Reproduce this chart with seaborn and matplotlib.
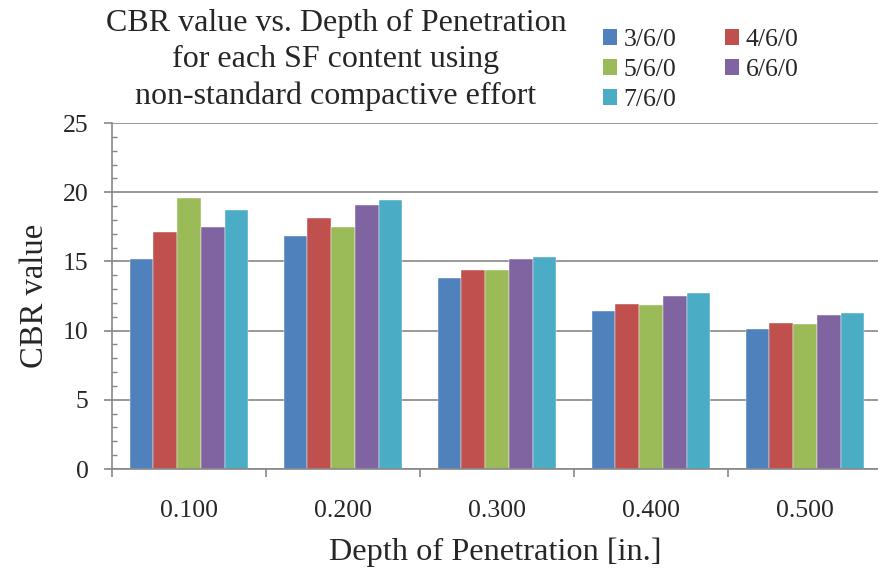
import matplotlib
matplotlib.use("Agg")
import matplotlib.pyplot as plt
from matplotlib.patches import Patch
from matplotlib.ticker import MultipleLocator, FixedLocator
import seaborn as sns
import pandas as pd

# CBR values for each SF content at each penetration depth
depths = ["0.100", "0.200", "0.300", "0.400", "0.500"]
mixes = ["3/6/0", "4/6/0", "5/6/0", "6/6/0", "7/6/0"]
cbr_3 = [15.2, 16.8, 13.8, 11.4, 10.1]
cbr_4 = [17.1, 18.1, 14.4, 11.9, 10.55]
cbr_5 = [19.6, 17.5, 14.35, 11.85, 10.5]
cbr_6 = [17.5, 19.1, 15.15, 12.5, 11.1]
cbr_7 = [18.75, 19.45, 15.35, 12.7, 11.25]
colors = ["#4F81BD", "#C0504D", "#9BBB59", "#8064A2", "#4BACC6"]

series = [cbr_3, cbr_4, cbr_5, cbr_6, cbr_7]
df = pd.DataFrame(
    [(d, m, v) for m, vals in zip(mixes, series) for d, v in zip(depths, vals)],
    columns=["depth", "mix", "cbr"],
)

sns.set_theme(style="white")
plt.rcParams["font.family"] = ["Liberation Serif", "DejaVu Serif"]
grid_col = "#878787"

W, H = 879, 571
fig = plt.figure(figsize=(W / 100, H / 100), dpi=100)
ax = fig.add_axes([112 / W, 1 - 469 / H, (879 - 112) / W, 346 / H])

sns.barplot(
    data=df, x="depth", y="cbr", hue="mix", order=depths, hue_order=mixes,
    palette=colors, saturation=1, width=0.77, dodge=True, legend=False,
    edgecolor="white", linewidth=0.3, ax=ax,
)

ax.set_xlim(-0.5, 4.48)
ax.set_ylim(0, 25)
ax.yaxis.set_major_locator(MultipleLocator(5))
ax.yaxis.set_minor_locator(MultipleLocator(1))
ax.grid(axis="y", which="major", color=grid_col, linewidth=1.2)
ax.set_axisbelow(True)

for side in ["top", "right"]:
    ax.spines[side].set_visible(False)
for side in ["left", "bottom"]:
    ax.spines[side].set_color(grid_col)
    ax.spines[side].set_linewidth(1.2)

ax.tick_params(axis="y", which="major", direction="out", length=6, width=1.2,
               color=grid_col, labelsize=18.5, pad=11, left=True)
ax.tick_params(axis="y", which="minor", direction="in", length=3.5, width=1.0,
               color=grid_col, left=True)
ax.xaxis.set_minor_locator(FixedLocator([i - 0.5 for i in range(6)]))
ax.tick_params(axis="x", which="major", length=0, labelsize=18.5, pad=22.5)
ax.tick_params(axis="x", which="minor", direction="out", length=6, width=1.2,
               color=grid_col, bottom=True)

ax.set_xlabel("Depth of Penetration [in.]", fontsize=23.3, labelpad=11)
ax.set_ylabel("CBR value", fontsize=23.5, labelpad=9)

fig.text(336 / W, 1 - 60 / H,
         "CBR value vs. Depth of Penetration\nfor each SF content using\nnon-standard compactive effort",
         ha="center", va="center", fontsize=23, linespacing=1.33)

handles = [Patch(facecolor=c, edgecolor="none") for c in colors]
order = [0, 2, 4, 1, 3]
fig.legend([handles[i] for i in order], [mixes[i] for i in order],
           loc="upper left", bbox_to_anchor=(603 / W, 1 - 29 / H), ncol=2,
           frameon=False, fontsize=18.5, borderpad=0, borderaxespad=0,
           handlelength=0.55, handleheight=0.55, handletextpad=0.25,
           labelspacing=0.31, columnspacing=1.9)

fig.savefig("out.png", dpi=100)
